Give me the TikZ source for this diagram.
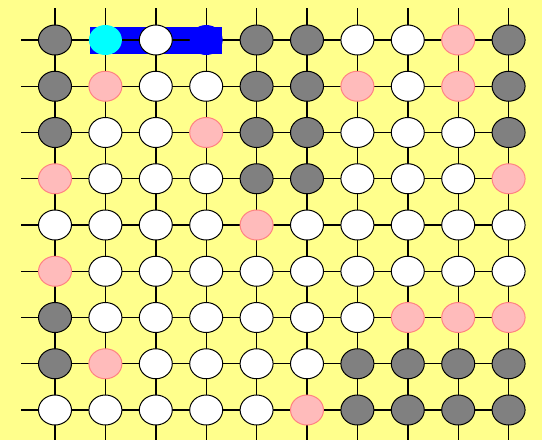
\documentclass[tikz,border=0pt]{standalone}
\usetikzlibrary{shapes.geometric,backgrounds}
\definecolor{bgyellow}{RGB}{255,255,140}
\definecolor{pinkfill}{RGB}{255,187,187}
\definecolor{pinkline}{RGB}{255,130,130}
\definecolor{grayfill}{RGB}{128,128,128}
\definecolor{cyanfill}{RGB}{0,255,255}
\definecolor{bluefill}{RGB}{0,0,255}
\tikzset{
  cell/.style={ellipse, minimum width=33pt, minimum height=30pt, inner sep=0pt, line width=1pt},
  gr/.style={cell, draw=black, fill=grayfill},
  wh/.style={cell, draw=black, fill=white},
  pk/.style={cell, draw=pinkline, fill=pinkfill},
  cy/.style={cell, fill=cyanfill},
  bl/.style={cell, fill=bluefill},
  gridline/.style={line width=1.4pt, black},
}
\begin{document}
\begin{tikzpicture}[x=1pt,y=-1pt]
\useasboundingbox (0,0) rectangle (542,440);
\foreach \row [count=\r from 0] in {
  {gr,cy,wh,bl,gr,gr,wh,wh,pk,gr},
  {gr,pk,wh,wh,gr,gr,pk,wh,pk,gr},
  {gr,wh,wh,pk,gr,gr,wh,wh,wh,gr},
  {pk,wh,wh,wh,gr,gr,wh,wh,wh,pk},
  {wh,wh,wh,wh,pk,wh,wh,wh,wh,wh},
  {pk,wh,wh,wh,wh,wh,wh,wh,wh,wh},
  {gr,wh,wh,wh,wh,wh,wh,pk,pk,pk},
  {gr,pk,wh,wh,wh,wh,gr,gr,gr,gr},
  {wh,wh,wh,wh,wh,pk,gr,gr,gr,gr}}{
  \foreach \t [count=\c from 0] in \row {
    \node[\t] (n-\r-\c) at ({55+50.4*\c},{40+46.25*\r}) {};
  }
}
\begin{pgfonlayer}{background}
  \fill[bgyellow] (0,0) rectangle (542,440);
  \foreach \c in {0,...,9} {
    \draw[gridline] ([yshift=32pt]n-0-\c.center) -- ([yshift=-32pt]n-8-\c.center);
  }
  \foreach \r in {0,...,8} {
    \draw[gridline] ([xshift=-34pt]n-\r-0.center) -- (n-\r-9.center);
  }
  \fill[bluefill] (90,26.7) rectangle (221.7,54);
  \draw[gridline] (n-0-1.center) -- (n-0-3.center);
\end{pgfonlayer}
\end{tikzpicture}
\end{document}
